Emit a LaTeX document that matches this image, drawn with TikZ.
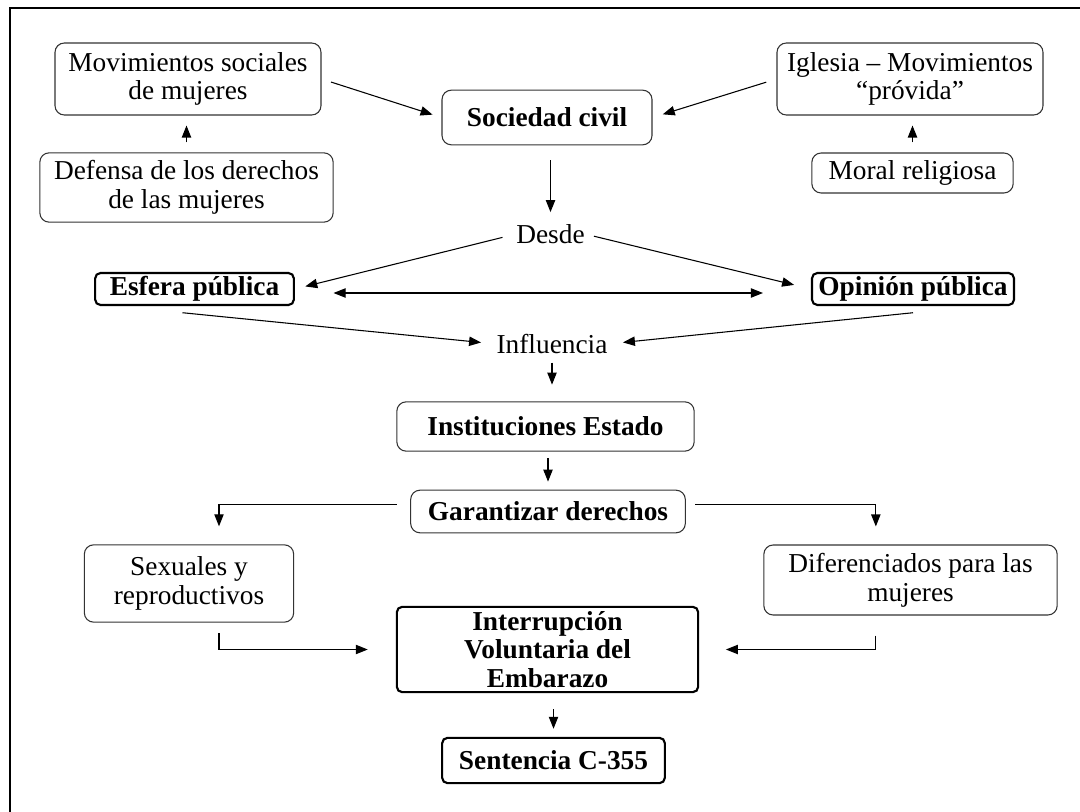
\documentclass[tikz,border=0pt]{standalone}
\usepackage{fontspec}
\setmainfont{Liberation Serif}
\usetikzlibrary{arrows.meta}
\begin{document}
\begin{tikzpicture}[x=0.75pt,y=-0.75pt,
  every node/.style={font=\fontsize{20.5}{21.5}\selectfont, align=center},
  box/.style={draw=black!80, line width=0.8pt, rounded corners=7pt, inner sep=0pt},
  bbox/.style={box, font=\fontsize{20.5}{21.5}\selectfont\bfseries},
  tbox/.style={draw=black, line width=1.6pt, rounded corners=4pt, inner sep=0pt, font=\fontsize{20.5}{21.5}\selectfont\bfseries},
  lbl/.style={inner sep=0pt},
  arr/.style={-{Triangle[length=9pt,width=7pt]}, line width=0.8pt},
  darr/.style={{Triangle[length=9pt,width=7pt]}-{Triangle[length=9pt,width=7pt]}, line width=0.8pt},
]
\useasboundingbox (0,0) rectangle (1080,812);
\draw[line width=1pt] (10,812) -- (10,8) -- (1080,8);

% nodes
\node[box, minimum width=199.5pt, minimum height=54pt] (mov) at (188,79) {Movimientos sociales\\de mujeres};
\node[box, minimum width=220pt, minimum height=52pt] (def) at (186.5,187.5) {Defensa de los derechos\\de las mujeres};
\node[bbox, minimum width=157.5pt, minimum height=41pt] (soc) at (547,117.5) {Sociedad civil};
\node[box, minimum width=199.5pt, minimum height=54pt] (igl) at (910,79) {Iglesia – Movimientos\\“próvida”};
\node[box, minimum width=151pt, minimum height=30pt] (moral) at (912.5,173) {Moral religiosa};
\node[lbl] (desde) at (550.5,234) {Desde};
\node[tbox, minimum width=149pt, minimum height=24pt] (esf) at (194.5,289) {Esfera pública};
\node[tbox, minimum width=151.5pt, minimum height=24pt] (opi) at (913,289) {Opinión pública};
\node[lbl] (infl) at (552,344) {Influencia};
\node[bbox, minimum width=223pt, minimum height=37pt] (inst) at (545.5,426.5) {Instituciones Estado};
\node[bbox, minimum width=206pt, minimum height=32pt] (gar) at (548,511.5) {Garantizar derechos};
\node[box, minimum width=157pt, minimum height=58pt] (sex) at (189,583.5) {Sexuales y\\reproductivos};
\node[box, minimum width=220pt, minimum height=52.5pt] (dif) at (910.5,580) {Diferenciados para las\\mujeres};
\node[tbox, minimum width=226pt, minimum height=64pt] (ive) at (547.5,649.5) {Interrupción\\Voluntaria del\\Embarazo};
\node[tbox, minimum width=167pt, minimum height=34pt] (sent) at (553.5,760.5) {Sentencia C-355};

% connectors
\draw[arr, shorten <=7.5pt, shorten >=7.5pt] (def.north) -- (def.north |- mov.south);
\draw[arr, shorten <=7.5pt, shorten >=7.5pt] (moral.north) -- (moral.north |- igl.south);
\draw[arr, shorten <=7.5pt, shorten >=7pt] (mov.east) -- (soc.west);
\draw[arr, shorten <=8pt, shorten >=8pt] (igl.west) -- (soc.east);
\draw[arr, shorten <=11pt, shorten >=9pt] (desde.north |- soc.south) -- (desde.north);
\draw[arr, shorten <=10.5pt, shorten >=8pt] (desde.west) -- (esf.east);
\draw[arr, shorten <=7pt, shorten >=13pt] (desde.east) -- (opi.west);
\draw[darr, shorten <=29pt, shorten >=36pt] ([yshift=-3pt]esf.east) -- ([yshift=-3pt]opi.west);
\draw[arr, shorten >=11.5pt] ([xshift=-9pt,yshift=-5pt]esf.south) -- (infl.west);
\draw[arr, shorten >=11.5pt] ([yshift=-5pt]opi.south) -- (infl.east);
\draw[arr, shorten <=6.5pt, shorten >=12.5pt] (infl.south) -- (infl.south |- inst.north);
\draw[arr, shorten <=5pt, shorten >=6pt] (gar.north |- inst.south) -- (gar.north);
\draw[arr, shorten <=10pt, shorten >=13.5pt] ([yshift=5pt]gar.west) -| ([xshift=22.5pt]sex.north);
\draw[arr, shorten <=7pt, shorten >=13.5pt] ([yshift=5pt]gar.east) -| ([xshift=-26pt]dif.north);
\draw[arr, shorten <=8pt, shorten >=21pt] ([xshift=22.5pt]sex.south) |- (ive.west);
\draw[arr, shorten <=15pt, shorten >=20pt] ([xshift=-26pt]dif.south) |- (ive.east);
\draw[arr, shorten <=12pt, shorten >=6pt] (sent.north |- ive.south) -- (sent.north);
\end{tikzpicture}
\end{document}
